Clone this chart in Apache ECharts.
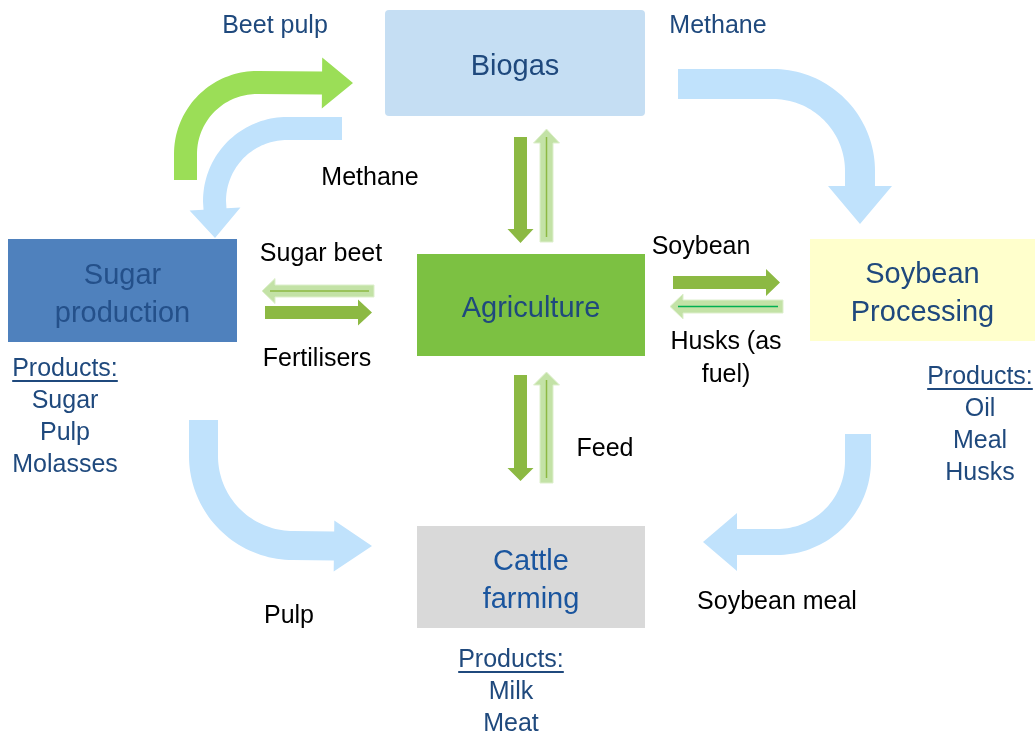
<!DOCTYPE html>
<html><head><meta charset="utf-8">
<script src="https://cdn.jsdelivr.net/npm/echarts@6/dist/echarts.min.js"></script>
<style>html,body{margin:0;padding:0;background:#fff}#c{width:1035px;height:732px}</style>
</head><body><div id="c"></div>
<script>
// ---------------- data ----------------
const nodeNames = ['Biogas', 'Agriculture', 'Sugar\nproduction', 'Soybean\nProcessing', 'Cattle\nfarming'];
const flowLabels = ['Beet pulp', 'Methane', 'Methane', 'Sugar beet', 'Fertilisers', 'Soybean', 'Husks (as\nfuel)', 'Feed', 'Pulp', 'Soybean meal'];
const productsHeader = 'Products:';
const sugarProducts = ['Sugar', 'Pulp', 'Molasses'];
const soybeanProducts = ['Oil', 'Meal', 'Husks'];
const cattleProducts = ['Milk', 'Meat'];
// flows between nodes (index into nodeNames)
const flowFrom = [2, 0, 0, 0, 1, 1, 4, 1, 3, 2, 3];
const flowTo   = [0, 3, 2, 1, 0, 4, 1, 3, 1, 4, 4];

// ---------------- layout (diagram units = pixels) ----------------
const FONT = '"Liberation Sans", Arial, sans-serif';
const boxRect = [[385,10,645,116],[417,254,645,356],[8,239,237,342],[810,239,1035,341],[417,526,645,628]];
const boxStyle = [
  {fill:'#C5DEF3', text:'#1F497D', r:4},
  {fill:'#7CC142', text:'#1F497D', r:0},
  {fill:'#4F81BD', text:'#24508A', r:0},
  {fill:'#FFFFCC', text:'#1F497D', r:0},
  {fill:'#D9D9D9', text:'#1A559E', r:0}
];
const BLUE = '#C0E2FC', GREEN = '#9BDE57', DARK = '#8CB943', LIGHT = '#C3E2A6';
// arrows: tail, optional arc {c,r,a0,a1}, base of head, tip, shaft width, head width
const arrowShape = [
  {p0:[185.5,180], arc:{c:[257,154], r:71.5, a0:180, a1:270}, base:[322,83], tip:[353,83], w:23, hw:51, fill:GREEN},
  {p0:[678,84], arc:{c:[773,171], r:87, a0:-90, a1:0}, base:[860,186], tip:[860,224], w:30, hw:64, fill:BLUE},
  {p0:[342,128.5], arc:{c:[287,201], r:72.5, a0:-90, a1:-180}, base:[215,209], tip:[215,238], w:23, hw:51, fill:BLUE},
  {p0:[520.5,137], base:[520.5,229], tip:[520.5,243], w:13, hw:26, fill:DARK},
  {p0:[546.5,242], base:[546.5,143], tip:[546.5,129], w:13, hw:26, fill:LIGHT, line:DARK},
  {p0:[520.5,375], base:[520.5,468], tip:[520.5,481], w:13, hw:26, fill:DARK},
  {p0:[546.5,483], base:[546.5,385], tip:[546.5,372], w:13, hw:26, fill:LIGHT, line:DARK},
  {p0:[673,282.5], base:[766,282.5], tip:[780,282.5], w:13, hw:27, fill:DARK},
  {p0:[783,306.5], base:[683,306.5], tip:[670,306.5], w:13, hw:25, fill:LIGHT, line:'#00B050'},
  {p0:[374,291], base:[275,291], tip:[262,291], w:12, hw:25, fill:LIGHT, line:DARK},
  {p0:[265,312.5], base:[358,312.5], tip:[372,312.5], w:13, hw:26, fill:DARK},
  {p0:[203.5,420], arc:{c:[293,456], r:89.5, a0:180, a1:90}, base:[334,546], tip:[372,546], w:29, hw:51, fill:BLUE},
  {p0:[858,434], arc:{c:[777,461], r:81, a0:0, a1:90}, base:[737,542], tip:[703,542], w:26, hw:58, fill:BLUE}
];
const flowLabelPos = [[275,26],[718,26],[370,178],[321,254],[317,359],[701,247],[726,359],[605,449],[289,616],[777,602]];
const flowLabelColor = ['#1F497D','#1F497D','#000','#000','#000','#000','#000','#000','#000','#000'];
const productBlocks = [
  {items: sugarProducts, x:65, y:369},
  {items: soybeanProducts, x:980, y:377},
  {items: cattleProducts, x:511, y:660}
];
const LINE_H = 32, LABEL_SIZE = 25, TITLE_SIZE = 29, TITLE_SHIFT = 4;

// ---------------- helpers ----------------
function centerLine(a){
  const pts = [a.p0];
  if (a.arc){
    const n = 40;
    for (let k=0;k<=n;k++){
      const t = (a.arc.a0 + (a.arc.a1 - a.arc.a0)*k/n) * Math.PI/180;
      pts.push([a.arc.c[0] + a.arc.r*Math.cos(t), a.arc.c[1] + a.arc.r*Math.sin(t)]);
    }
  }
  pts.push(a.base);
  const out = [];
  pts.forEach(p => { const l = out[out.length-1]; if (!l || Math.hypot(p[0]-l[0], p[1]-l[1]) > 0.01) out.push(p); });
  return out;
}
function arrowPolygon(a, api){
  const pts = centerLine(a).map(p => api.coord(p));
  const tip = api.coord(a.tip);
  const sc = Math.abs(api.coord([1,0])[0] - api.coord([0,0])[0]);
  const w = a.w*sc/2, hw = a.hw*sc/2;
  const L = [], R = [];
  for (let i=0;i<pts.length;i++){
    const p = pts[Math.max(0,i-1)], q = pts[Math.min(pts.length-1,i+1)];
    let dx = q[0]-p[0], dy = q[1]-p[1]; const d = Math.hypot(dx,dy); dx/=d; dy/=d;
    const nx = -dy, ny = dx;
    L.push([pts[i][0]+nx*w, pts[i][1]+ny*w]);
    R.push([pts[i][0]-nx*w, pts[i][1]-ny*w]);
    if (i === pts.length-1){
      L.push([pts[i][0]+nx*hw, pts[i][1]+ny*hw]);
      R.push([pts[i][0]-nx*hw, pts[i][1]-ny*hw]);
    }
  }
  return L.concat([tip]).concat(R.reverse());
}
const measureCtx = document.createElement('canvas').getContext('2d');

// ---------------- series ----------------
const boxData = nodeNames.map((n,i)=>({name:n.replace('\n',' '), value:[(boxRect[i][0]+boxRect[i][2])/2,(boxRect[i][1]+boxRect[i][3])/2]}));
const arrowData = arrowShape.map((a,i)=>({value:a.tip}));
const labelData = flowLabels.map((t,i)=>({name:t, value:flowLabelPos[i]}));
const productData = productBlocks.map(b=>({value:[b.x,b.y]}));

const option = {
  animation:false,
  grid:{left:0,right:0,top:0,bottom:0},
  xAxis:{type:'value', min:0, max:1035, show:false},
  yAxis:{type:'value', min:0, max:732, inverse:true, show:false},
  series:[
    {type:'custom', name:'nodes', coordinateSystem:'cartesian2d', clip:false, silent:true, data:boxData,
     renderItem:function(params, api){
       const i = params.dataIndex, b = boxRect[i], s = boxStyle[i];
       const p0 = api.coord([b[0],b[1]]), p1 = api.coord([b[2],b[3]]);
       return {type:'group', children:[
         {type:'rect', shape:{x:p0[0], y:p0[1], width:p1[0]-p0[0], height:p1[1]-p0[1], r:s.r}, style:{fill:s.fill}},
         {type:'text', style:{text:nodeNames[i], x:(p0[0]+p1[0])/2, y:(p0[1]+p1[1])/2 + TITLE_SHIFT, fill:s.text, fontSize:TITLE_SIZE, fontFamily:FONT, align:'center', verticalAlign:'middle', lineHeight:38}}
       ]};
     }},
    {type:'custom', name:'flows', coordinateSystem:'cartesian2d', clip:false, silent:true, data:arrowData,
     renderItem:function(params, api){
       const a = arrowShape[params.dataIndex];
       const children = [{type:'polygon', shape:{points:arrowPolygon(a, api)}, style:{fill:a.fill, stroke:a.line ? '#DDEFCC' : null, lineWidth:1}}];
       if (a.line){
         const t = api.coord(a.tip), p = api.coord(a.p0);
         const dx = p[0]-t[0], dy = p[1]-t[1], d = Math.hypot(dx,dy);
         children.push({type:'line', shape:{x1:t[0]+dx/d*8, y1:t[1]+dy/d*8, x2:p[0]-dx/d*5, y2:p[1]-dy/d*5}, style:{stroke:a.line, lineWidth:1.5}});
       }
       return {type:'group', children};
     }},
    {type:'custom', name:'flowLabels', coordinateSystem:'cartesian2d', clip:false, silent:true, data:labelData,
     renderItem:function(params, api){
       const i = params.dataIndex, p = api.coord(flowLabelPos[i]);
       return {type:'text', style:{text:flowLabels[i], x:p[0], y:p[1], fill:flowLabelColor[i], fontSize:LABEL_SIZE, fontFamily:FONT, align:'center', verticalAlign:'middle', lineHeight:33}};
     }},
    {type:'custom', name:'products', coordinateSystem:'cartesian2d', clip:false, silent:true, data:productData,
     renderItem:function(params, api){
       const b = productBlocks[params.dataIndex], p = api.coord([b.x,b.y]);
       measureCtx.font = LABEL_SIZE + 'px ' + FONT;
       const hw = measureCtx.measureText(productsHeader).width;
       const children = [
         {type:'text', style:{text:productsHeader, x:p[0], y:p[1], fill:'#1F497D', fontSize:LABEL_SIZE, fontFamily:FONT, align:'center', verticalAlign:'middle'}},
         {type:'rect', shape:{x:p[0]-hw/2, y:p[1]+11, width:hw, height:2}, style:{fill:'#1F497D'}}
       ];
       b.items.forEach((t,k)=>{
         children.push({type:'text', style:{text:t, x:p[0], y:p[1]+LINE_H*(k+1), fill:'#1F497D', fontSize:LABEL_SIZE, fontFamily:FONT, align:'center', verticalAlign:'middle'}});
       });
       return {type:'group', children};
     }}
  ]
};
const chart = echarts.init(document.getElementById('c'), null, {renderer:'canvas'});
chart.setOption(option);
</script>
</body></html>
